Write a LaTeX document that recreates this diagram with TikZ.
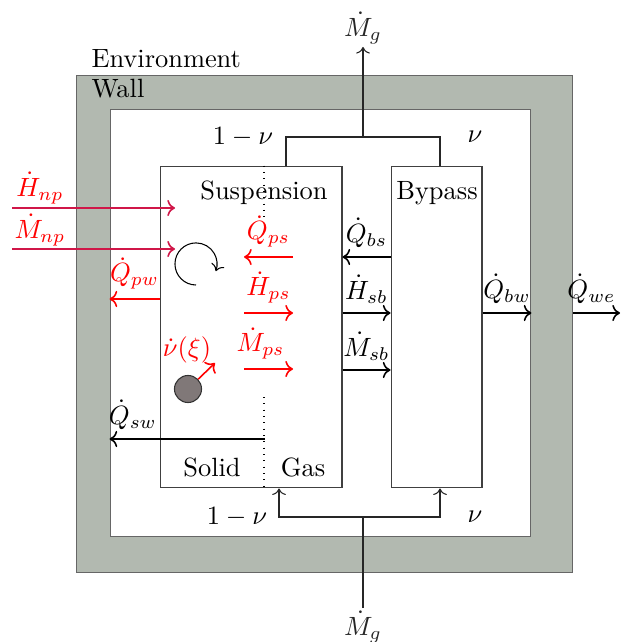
\documentclass[tikz,border=0pt]{standalone}
\usepackage{xcolor}
\usetikzlibrary{arrows.meta, positioning}

\definecolor{wallgray}{RGB}{178,185,176}
\definecolor{feedred}{RGB}{208,22,72}
\definecolor{partgray}{RGB}{128,120,120}

\begin{document}
\begin{tikzpicture}[
        x=0.0133cm, y=-0.0133cm,
        box/.style={rectangle, draw=black!75, thin, inner sep=0pt, minimum height=4.2826cm},
        pipe/.style={thin, black!85},
        flow/.style={->, semithick},
        redflow/.style={->, semithick, red},
        feedflow/.style={->, semithick, feedred},
        lbl/.style={inner sep=0pt, anchor=base}
    ]
        \useasboundingbox (0,0) rectangle (620,642);

        % wall and inner space
        \node[draw=black!60, fill=wallgray, inner sep=0pt, minimum width=6.61cm, minimum height=6.61cm] (wall) at (324.5,324) {};
        \node[draw=black!60, fill=white, inner sep=0pt, minimum width=5.5993cm, minimum height=5.6924cm] (inner) at (320.5,323) {};
        \node[lbl, anchor=base west] (env) at (91,68) {Environment};
        \node[lbl, anchor=base west] (walltext) at (91,98) {Wall};

        % reactor parts
        \node[box, minimum width=2.4206cm] (susp) at (251,327) {};
        \node[box, minimum width=1.2103cm] (bypass) at (436.5,327) {};
        \node[lbl] (susptext) at (264,200) {Suspension};
        \node[lbl] (bypasstext) at (437,200) {Bypass};
        \node[lbl] (solid) at (212,476) {Solid};
        \node[lbl] (gas) at (303,476) {Gas};
        \draw[dotted, thin] (susp.north -| 264,0) -- (264,218);
        \draw[dotted, thin] (264,397) -- (susp.south -| 264,0);

        % gas in and out
        \coordinate (gtop) at (363,137);
        \coordinate (gout) at (363,47);
        \coordinate (gbot) at (363,517);
        \coordinate (gin) at (363,608);
        \draw[pipe] (susp.north -| 286,0) -- (286,137) -- (440,137) -- (bypass.north -| 440,0);
        \draw[pipe, ->] (gtop) -- (gout) node[above, inner sep=1pt] {$\dot M_g$};
        \draw[pipe, <->] (susp.south -| 279,0) -- (279,517) -- (440,517) -- (bypass.south -| 440,0);
        \draw[pipe] (gin) node[below, inner sep=1pt] {$\dot M_g$} -- (gbot);
        \node (nutl) at (243,137) {$1-\nu$};
        \node (nutr) at (475,137) {$\nu$};
        \node (nubl) at (237,517) {$1-\nu$};
        \node (nubr) at (475,517) {$\nu$};

        % black flows
        \coordinate (swsrc) at (265,439);
        \coordinate (weout) at (620,313);
        \draw[flow] (bypass.west |- 0,257) -- (susp.east |- 0,257) node[midway, above] {$\dot Q_{bs}$};
        \draw[flow] (susp.east |- 0,313) -- (bypass.west |- 0,313) node[midway, above] {$\dot H_{sb}$};
        \draw[flow] (susp.east |- 0,370) -- (bypass.west |- 0,370) node[midway, above] {$\dot M_{sb}$};
        \draw[flow] (bypass.east |- 0,313) -- (inner.east |- 0,313) node[midway, above] {$\dot Q_{bw}$};
        \draw[flow] (wall.east |- 0,313) -- (weout) node[midway, above, xshift=-2] {$\dot Q_{we}$};
        \draw[flow] (swsrc) -- (inner.west |- 0,439) node[pos=0.85, above] {$\dot Q_{sw}$};

        % feed and inner flows
        \coordinate (hnpa) at (12,208);
        \coordinate (hnpb) at (175,208);
        \coordinate (mnpa) at (12,249);
        \coordinate (mnpb) at (175,249);
        \draw[feedflow] (hnpa) -- (hnpb);
        \draw[feedflow] (mnpa) -- (mnpb);
        \node[red] (hnp) at (40,188) {$\dot H_{np}$};
        \node[red] (mnp) at (40,230) {$\dot M_{np}$};
        \draw[redflow] (susp.west |- 0,299) -- (inner.west |- 0,299) node[midway, above] {$\dot Q_{pw}$};
        \coordinate (qpsa) at (293,257);
        \coordinate (qpsb) at (244,257);
        \coordinate (hpsa) at (244,313);
        \coordinate (hpsb) at (293,313);
        \coordinate (mpsa) at (244,369);
        \coordinate (mpsb) at (293,369);
        \draw[redflow] (qpsa) -- (qpsb) node[midway, above] {$\dot Q_{ps}$};
        \draw[redflow] (hpsa) -- (hpsb) node[midway, above] {$\dot H_{ps}$};
        \draw[redflow] (mpsa) -- (mpsb) node[midway, above, xshift=-3] {$\dot M_{ps}$};

        % particle and mixing
        \node[circle, draw=black!80, fill=partgray, inner sep=0pt, minimum size=0.36cm] (particle) at (188,389) {};
        \coordinate (grow) at (215,363);
        \draw[redflow] (particle.44) -- (grow);
        \node[red] (nudot) at (187,350) {$\dot\nu(\xi)$};
        \draw[thin, ->] (196,285) arc[start angle=-90, end angle=-380, radius=0.28cm];
    \end{tikzpicture}
\end{document}
